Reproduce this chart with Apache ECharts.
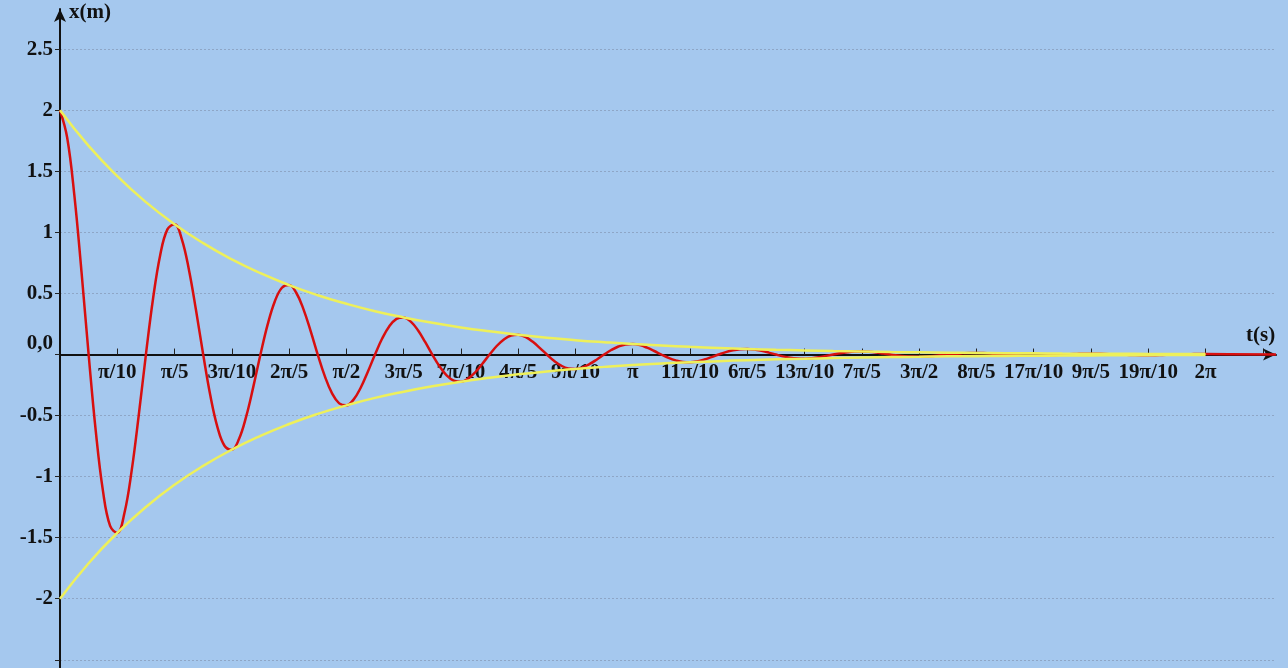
<!DOCTYPE html>
<html>
<head>
<meta charset="utf-8">
<title>x(t)</title>
<script src="https://cdn.jsdelivr.net/npm/echarts@6/dist/echarts.min.js"></script>
<style>
  html, body { margin: 0; padding: 0; background: #a5c8ee; }
  #chart { width: 1288px; height: 668px; }
</style>
</head>
<body>
<div id="chart"></div>
<script>
// Damped oscillation x(t), sampled every π/80 s from 0 to 2π
const RED_STEP = Math.PI / 80;
const displacement = [
  2.000, 1.777, 1.307, 0.680, 0, -0.629, -1.117, -1.404,
  -1.461, -1.298, -0.955, -0.497, 0, 0.459, 0.816, 1.025,
  1.067, 0.948, 0.697, 0.363, 0, -0.336, -0.596, -0.749,
  -0.779, -0.692, -0.509, -0.265, 0, 0.245, 0.435, 0.547,
  0.569, 0.506, 0.372, 0.194, 0, -0.179, -0.318, -0.400,
  -0.416, -0.369, -0.272, -0.141, 0, 0.131, 0.232, 0.292,
  0.304, 0.270, 0.199, 0.103, 0, -0.095, -0.170, -0.213,
  -0.222, -0.197, -0.145, -0.075, 0, 0.070, 0.124, 0.156,
  0.162, 0.144, 0.106, 0.055, 0, -0.051, -0.091, -0.114,
  -0.118, -0.105, -0.077, -0.040, 0, 0.037, 0.066, 0.083,
  0.086, 0.077, 0.056, 0.029, 0, -0.027, -0.048, -0.061,
  -0.063, -0.056, -0.041, -0.021, 0, 0.020, 0.035, 0.044,
  0.046, 0.041, 0.030, 0.016, 0, -0.015, -0.026, -0.032,
  -0.034, -0.030, -0.022, -0.011, 0, 0.011, 0.019, 0.024,
  0.025, 0.022, 0.016, 0.008, 0, -0.008, -0.014, -0.017,
  -0.018, -0.016, -0.012, -0.006, 0, 0.006, 0.010, 0.013,
  0.013, 0.012, 0.009, 0.004, 0, -0.004, -0.007, -0.009,
  -0.010, -0.009, -0.006, -0.003, 0, 0.003, 0.005, 0.007,
  0.007, 0.006, 0.005, 0.002, 0, -0.002, -0.004, -0.005,
  -0.005, -0.005, -0.003, -0.002, 0, 0.002, 0.003, 0.004,
  0.004
];

// Envelope curves ±A(t), sampled every π/20 s from 0 to 2π
const ENV_STEP = Math.PI / 20;
const envelopeHigh = [
  2, 1.709, 1.461, 1.248, 1.067, 0.912, 0.779, 0.666, 0.569, 0.486,
  0.416, 0.355, 0.304, 0.260, 0.222, 0.190, 0.162, 0.138, 0.118, 0.101,
  0.086, 0.074, 0.063, 0.054, 0.046, 0.039, 0.034, 0.029, 0.025, 0.021,
  0.018, 0.015, 0.013, 0.011, 0.010, 0.008, 0.007, 0.006, 0.005, 0.004, 0.004
];
const envelopeLow = [
  -2, -1.709, -1.461, -1.248, -1.067, -0.912, -0.779, -0.666, -0.569, -0.486,
  -0.416, -0.355, -0.304, -0.260, -0.222, -0.190, -0.162, -0.138, -0.118, -0.101,
  -0.086, -0.074, -0.063, -0.054, -0.046, -0.039, -0.034, -0.029, -0.025, -0.021,
  -0.018, -0.015, -0.013, -0.011, -0.010, -0.008, -0.007, -0.006, -0.005, -0.004, -0.004
];

// Axis ticks
const X_TICK_STEP = Math.PI / 10;
const xTickLabels = ['π/10', 'π/5', '3π/10', '2π/5', 'π/2', '3π/5', '7π/10', '4π/5', '9π/10', 'π',
  '11π/10', '6π/5', '13π/10', '7π/5', '3π/2', '8π/5', '17π/10', '9π/5', '19π/10', '2π'];
const xTickCount = 21;
const yTickValues = [2.5, 2, 1.5, 1, 0.5, 0, -0.5, -1, -1.5, -2, -2.5];
const yLabelValues = [2.5, 2, 1.5, 1, 0.5, 0, -0.5, -1, -1.5, -2];
const yTickLabels = ['2.5', '2', '1.5', '1', '0.5', '0,0', '-0.5', '-1', '-1.5', '-2'];

const T_MAX = 6.67;
const X_MIN = -2.6, X_MAX = 2.83;

// Layout
const W = 1288, H = 668;
const GRID = { left: 60, right: 12, top: 9, bottom: -4 };
const gridHeight = H - GRID.top - GRID.bottom;
// lift the time axis from the grid's bottom edge up to x = 0
const timeAxisOffset = -gridHeight * (0 - X_MIN) / (X_MAX - X_MIN);

const FONT = 'Liberation Serif';
const LABEL_SIZE = 21;

const redData = displacement.map((v, i) => [i * RED_STEP, v]);
redData.push([T_MAX, 0]);
const highData = envelopeHigh.map((v, i) => [i * ENV_STEP, v]);
const lowData = envelopeLow.map((v, i) => [i * ENV_STEP, v]);

const xTicks = [];
for (let k = 1; k <= xTickCount; k++) xTicks.push(k * X_TICK_STEP);
const xLabelTicks = xTicks.slice(0, xTickLabels.length);

const chart = echarts.init(document.getElementById('chart'), null, { width: W, height: H });
chart.setOption({
  backgroundColor: '#a5c8ee',
  animation: false,
  grid: Object.assign({ containLabel: false, outerBoundsMode: 'none' }, GRID),
  xAxis: {
    type: 'value',
    position: 'bottom',
    offset: timeAxisOffset,
    min: 0,
    max: T_MAX,
    axisLine: {
      onZero: false,
      lineStyle: { color: '#111', width: 2 },
      symbol: ['none', 'arrow'],
      symbolSize: [9, 13]
    },
    axisTick: {
      show: true,
      inside: true,
      length: 6,
      customValues: xTicks,
      lineStyle: { color: '#222', width: 1 }
    },
    axisLabel: {
      customValues: xLabelTicks,
      margin: 8,
      color: '#111',
      fontFamily: FONT,
      fontWeight: 'bold',
      fontSize: LABEL_SIZE,
      formatter: v => xTickLabels[Math.round(v / X_TICK_STEP) - 1] || ''
    },
    splitLine: { show: false }
  },
  yAxis: {
    type: 'value',
    min: X_MIN,
    max: X_MAX,
    axisLine: {
      onZero: false,
      lineStyle: { color: '#111', width: 2 },
      symbol: ['none', 'arrow'],
      symbolSize: [9, 13]
    },
    axisTick: {
      show: true,
      inside: false,
      length: 5,
      customValues: yTickValues,
      lineStyle: { color: '#222', width: 1 }
    },
    axisLabel: {
      customValues: yLabelValues,
      margin: 7,
      color: '#111',
      fontFamily: FONT,
      fontWeight: 'bold',
      fontSize: LABEL_SIZE,
      formatter: v => {
        const i = yLabelValues.findIndex(y => Math.abs(y - v) < 1e-9);
        const s = i >= 0 ? yTickLabels[i] : '';
        return v === 0 ? '{z|' + s + '}' : s;
      },
      rich: {
        z: { fontFamily: FONT, fontWeight: 'bold', fontSize: LABEL_SIZE, color: '#111', padding: [0, 0, 22, 0] }
      }
    },
    splitLine: {
      show: true,
      lineStyle: { color: '#8ea6c6', width: 1, type: [2, 2] }
    }
  },
  graphic: [
    { type: 'text', left: 69, top: 2, style: { text: 'x(m)', font: 'bold 21px "Liberation Serif"', fill: '#111' } },
    { type: 'text', left: 1246, top: 325, style: { text: 't(s)', font: 'bold 21px "Liberation Serif"', fill: '#111' } }
  ],
  series: [
    {
      type: 'line',
      data: redData,
      smooth: 0.4,
      showSymbol: false,
      lineStyle: { color: '#d80f0f', width: 2.5 },
      z: 3
    },
    {
      type: 'line',
      data: highData,
      smooth: 0.5,
      showSymbol: false,
      lineStyle: { color: '#eef05a', width: 2.5 },
      z: 4
    },
    {
      type: 'line',
      data: lowData,
      smooth: 0.5,
      showSymbol: false,
      lineStyle: { color: '#eef05a', width: 2.5 },
      z: 4
    }
  ]
});
</script>
</body>
</html>
